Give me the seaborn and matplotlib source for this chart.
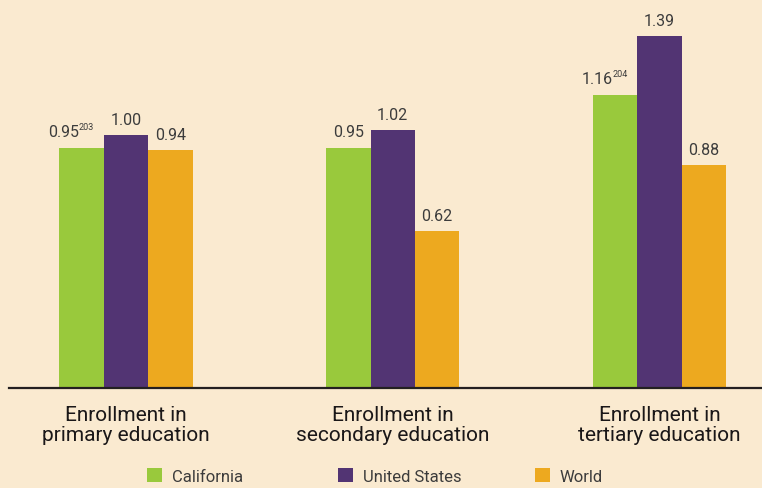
import pandas as pd
import matplotlib.pyplot as plt
import seaborn as sns
from matplotlib.patches import Patch

# データ
levels = ["Enrollment in\nprimary education",
          "Enrollment in\nsecondary education",
          "Enrollment in\ntertiary education"]
regions = ["California", "United States", "World"]
california = [0.95, 0.95, 1.16]
united_states = [1.00, 1.02, 1.39]
world = [0.94, 0.62, 0.88]
# 脚注番号 (region, level index) -> superscript
footnotes = {("California", 0): "203", ("California", 2): "204"}

colors = ["#99C93C", "#523473", "#EDA91F"]
bg = "#FAEAD0"
txt_col = "#3C3C3C"
lab_col = "#1A1718"

df = pd.DataFrame({
    "level": levels * 3,
    "region": [r for r in regions for _ in levels],
    "value": california + united_states + world,
})

sns.set_theme(style="white")
plt.rcParams["font.family"] = ["Roboto", "DejaVu Sans"]

fig = plt.figure(figsize=(7.62, 4.89), dpi=100, facecolor=bg)
ax = fig.add_axes([9 / 762, 100 / 489, 1 - 9 / 762, 389 / 489])
ax.set_facecolor(bg)

sns.barplot(data=df, x="level", y="value", hue="region", hue_order=regions,
            palette=colors, width=0.5, saturation=1, gap=0, linewidth=0,
            legend=False, ax=ax)

ax.set_ylim(0, 389 / 253)
ax.set_xlim(-0.4386, 2.384)
for s in ["top", "left", "right"]:
    ax.spines[s].set_visible(False)
ax.spines["bottom"].set_color("#231F20")
ax.spines["bottom"].set_linewidth(1.6)
ax.set_yticks([])
ax.set_xlabel("")
ax.set_ylabel("")
ax.tick_params(axis="x", length=0, pad=12)
for lab in ax.get_xticklabels():
    lab.set_fontsize(15)
    lab.set_fontweight("normal")
    lab.set_color(lab_col)
    lab.set_linespacing(1.08)

# 値ラベル
for region, cont in zip(regions, ax.containers):
    for i, bar in enumerate(cont):
        h = bar.get_height()
        xc = bar.get_x() + bar.get_width() / 2
        txt = f"{h:.2f}"
        sup = footnotes.get((region, i))
        if sup is None:
            ax.annotate(txt, (xc, h), xytext=(0, 8.2), textcoords="offset points",
                        ha="center", va="baseline", fontsize=11.5, color=txt_col)
        else:
            ax.annotate(txt, (xc, h), xytext=(-2, 8.5), textcoords="offset points",
                        ha="right", va="baseline", fontsize=11.5, color=txt_col)
            ax.annotate(sup, (xc, h), xytext=(-2, 13.5), textcoords="offset points",
                        ha="left", va="baseline", fontsize=6.5, color=txt_col)

# 凡例
legend_x = [147 / 762, 338 / 762, 535 / 762]
for region, color, lx in zip(regions, colors, legend_x):
    fig.legend(handles=[Patch(facecolor=color, edgecolor="none")], labels=[region],
               loc="center left", bbox_to_anchor=(lx, 12 / 489), frameon=False,
               fontsize=12, handlelength=0.9, handleheight=0.9, handletextpad=0.6,
               labelcolor=txt_col, borderpad=0, borderaxespad=0)

fig.savefig("out.png", dpi=100, facecolor=bg)
